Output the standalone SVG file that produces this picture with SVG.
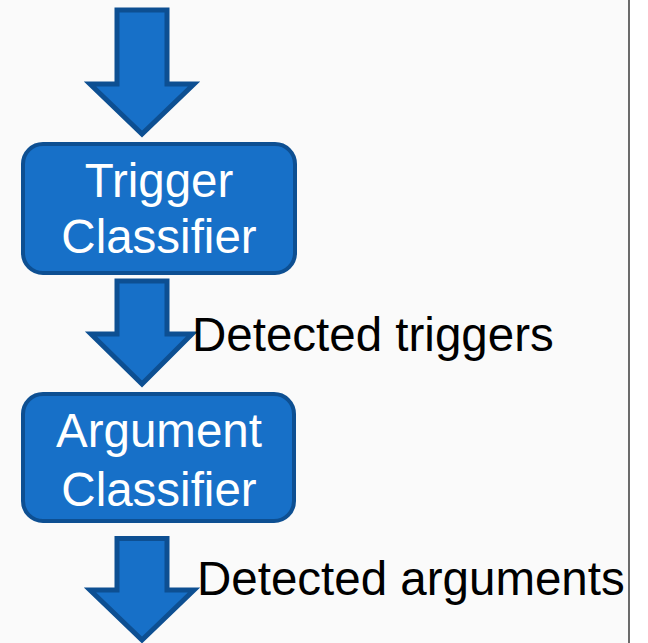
<svg xmlns="http://www.w3.org/2000/svg" width="648" height="643" viewBox="0 0 648 643">
  <style>
    .block { fill: #1770c8; stroke: #0d4f92; stroke-width: 4; }
    .flow { fill: #1770c8; stroke: #0d4f92; stroke-width: 5; stroke-linejoin: miter; }
    .label { font-family: "Liberation Sans", Arial, sans-serif; font-size: 47.5px; }
    .inner { fill: #ffffff; text-anchor: middle; }
    .note { fill: #000000; }
  </style>
  <!-- page background and right margin rule -->
  <rect x="0" y="0" width="648" height="643" fill="#ffffff"/>
  <rect x="0" y="0" width="629" height="643" fill="#fafafa"/>
  <line x1="629" y1="0" x2="629" y2="643" stroke="#3a3a3a" stroke-width="1.5"/>

  <g id="connectors">
    <polygon id="arrow-in" class="flow" points="117,10 167,10 167,84 194,84 142,134 90,84 117,84"/>
    <polygon id="arrow-mid" class="flow" points="117,281 167,281 167,334 192,334 142,384 91,334 117,334"/>
    <polygon id="arrow-out" class="flow" points="117,538.5 167,538.5 167,590 194,590 142,640 90,590 117,590"/>
  </g>

  <g id="trigger-classifier">
    <rect class="block" x="23" y="144" width="272" height="129" rx="20" ry="20"/>
    <text class="label inner" x="159" y="197">Trigger</text>
    <text class="label inner" x="159" y="253">Classifier</text>
  </g>

  <g id="argument-classifier">
    <rect class="block" x="23" y="394" width="271" height="127" rx="20" ry="20"/>
    <text class="label inner" x="159" y="447">Argument</text>
    <text class="label inner" x="159" y="506">Classifier</text>
  </g>

  <g id="detected-triggers">
    <text class="label note" x="192" y="351">Detected triggers</text>
  </g>

  <g id="detected-arguments">
    <text class="label note" x="197" y="595">Detected arguments</text>
  </g>
</svg>
